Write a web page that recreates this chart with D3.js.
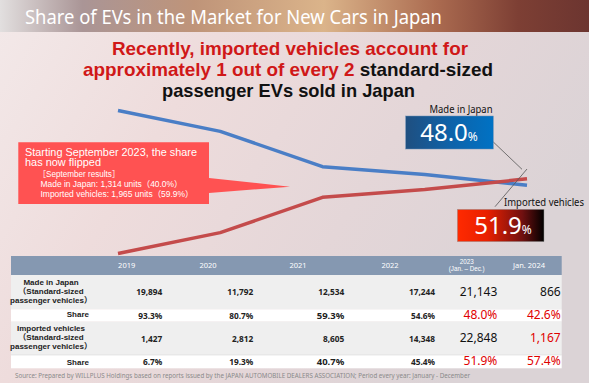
<!DOCTYPE html>
<html><head><meta charset="utf-8">
<script src="https://cdn.jsdelivr.net/npm/d3@7"></script>
<style>html,body{margin:0;padding:0;overflow:hidden;background:#fff}svg{display:block}</style>
</head><body>
<svg id="c" width="589" height="383"></svg>
<script>
// ---------- data ----------
const years = ["2019", "2020", "2021", "2022", "2023"];
const madeInJapanShare = [93.3, 80.7, 59.3, 54.6, 48.0];
const importedShare = [6.7, 19.3, 40.7, 45.4, 51.9];
const tableHeaders = ["2019", "2020", "2021", "2022", "2023|(Jan. – Dec.)", "Jan. 2024"];
const madeInJapanUnits = ["19,894", "11,792", "12,534", "17,244", "21,143", "866"];
const madeInJapanShareText = ["93.3%", "80.7%", "59.3%", "54.6%", "48.0%", "42.6%"];
const importedUnits = ["1,427", "2,812", "8,605", "14,348", "22,848", "1,167"];
const importedShareText = ["6.7%", "19.3%", "40.7%", "45.4%", "51.9%", "57.4%"];
const rowLabels = ["Made in Japan|（Standard-sized|passenger vehicles）", "Share", "Imported vehicles|（Standard-sized|passenger vehicles）", "Share"];
const titleText = "Share of EVs in the Market for New Cars in Japan";
const calloutLines = ["Starting September 2023, the share", "has now flipped", "［September results］", "Made in Japan: 1,314 units（40.0%）", "Imported vehicles: 1,965 units（59.9%）"];
const sourceText = "Source: Prepared by WILLPLUS Holdings based on reports issued by the JAPAN AUTOMOBILE DEALERS ASSOCIATION; Period every year: January - December";

const svg = d3.select("#c");
const defs = svg.append("defs");
const FONT = "'Noto Sans','Noto Sans CJK JP',sans-serif";
const TFONT = "'Liberation Sans','Noto Sans CJK JP',sans-serif";

function lg(id, stops, x2 = 1, y2 = 0) {
  const g = defs.append("linearGradient").attr("id", id)
    .attr("x1", 0).attr("y1", 0).attr("x2", x2).attr("y2", y2);
  stops.forEach(s => g.append("stop").attr("offset", s[0]).attr("stop-color", s[1]));
}
lg("bg", [[0, "#f3e9e9"], [0.35, "#eedcdc"], [0.7, "#e4d6d8"], [1, "#dbd3d6"]], 1, 0.4);
lg("title", [[0, "#e2dfdf"], [0.14, "#aa9596"], [0.33, "#bf9479"], [0.55, "#dbb48a"], [0.74, "#ab6b50"], [0.88, "#7d3f34"], [1, "#6c3530"]]);
lg("blueBox", [[0, "#1f4f80"], [0.5, "#0f62a8"], [1, "#0072c4"]]);
lg("redBox", [[0, "#ff2a00"], [0.35, "#e82000"], [0.75, "#701010"], [1, "#000000"]]);

// background
svg.append("rect").attr("width", 589).attr("height", 383).attr("fill", "url(#bg)");
// title bar
svg.append("rect").attr("width", 589).attr("height", 32).attr("fill", "url(#title)");
svg.append("text").attr("x", 25).attr("y", 24).attr("fill", "#fff")
  .attr("font-family", "'Noto Sans',sans-serif").attr("font-size", 19)
  .attr("textLength", 417).attr("lengthAdjust", "spacingAndGlyphs")
  .text(titleText);

// headline
const head = svg.append("g").attr("font-family", TFONT).attr("font-weight", "bold").attr("font-size", 18.5).attr("text-anchor", "middle");
head.append("text").attr("x", 290).attr("y", 54.5).attr("fill", "#d01818")
  .attr("textLength", 356).attr("lengthAdjust", "spacingAndGlyphs")
  .text("Recently, imported vehicles account for");
const l2 = head.append("text").attr("x", 288).attr("y", 75.5)
  .attr("textLength", 410).attr("lengthAdjust", "spacingAndGlyphs");
l2.append("tspan").attr("fill", "#d01818").text("approximately 1 out of every 2 ");
l2.append("tspan").attr("fill", "#111").text("standard-sized");
head.append("text").attr("x", 288.5).attr("y", 96.5).attr("fill", "#111")
  .attr("textLength", 253).attr("lengthAdjust", "spacingAndGlyphs")
  .text("passenger EVs sold in Japan");

// scales
const x = d3.scalePoint().domain(years).range([118, 527]);
const y = d3.scaleLinear().domain([0, 100]).range([264.5, 99.5]);
const line = d3.line().x((d, i) => x(years[i])).y(d => y(d));

svg.append("path").datum(madeInJapanShare).attr("d", line).attr("fill", "none")
  .attr("stroke", "#4a7ec6").attr("stroke-width", 3.5).attr("stroke-linejoin", "round");
svg.append("path").datum(importedShare).attr("d", line).attr("fill", "none")
  .attr("stroke", "#c44b4b").attr("stroke-width", 3.5).attr("stroke-linejoin", "round");

// callout
svg.append("path")
  .attr("d", "M18.3,142.3 H209 V178 L290,186.7 L209,193 V204 H18.3 Z")
  .attr("fill", "#ff5252");
const co = svg.append("g").attr("font-family", TFONT).attr("fill", "#fff");
co.append("text").attr("x", 25).attr("y", 155.5).attr("font-size", 10.5)
  .attr("textLength", 172).attr("lengthAdjust", "spacingAndGlyphs").text(calloutLines[0]);
co.append("text").attr("x", 25).attr("y", 166).attr("font-size", 10.5)
  .attr("textLength", 76).attr("lengthAdjust", "spacingAndGlyphs").text(calloutLines[1]);
co.append("text").attr("x", 38).attr("y", 177).attr("font-size", 8.3)
  .attr("textLength", 82).attr("lengthAdjust", "spacingAndGlyphs").text(calloutLines[2]);
co.append("text").attr("x", 40.5).attr("y", 187.3).attr("font-size", 8.5)
  .attr("textLength", 142).attr("lengthAdjust", "spacingAndGlyphs").text(calloutLines[3]);
co.append("text").attr("x", 40.5).attr("y", 197).attr("font-size", 8.5)
  .attr("textLength", 153).attr("lengthAdjust", "spacingAndGlyphs").text(calloutLines[4]);

// leader lines
const endX = x(years[years.length - 1]);
svg.append("line").attr("x1", 493).attr("y1", 141.7).attr("x2", endX - 5).attr("y2", 169.3)
  .attr("stroke", "#555").attr("stroke-width", 0.8);
svg.append("line").attr("x1", endX).attr("y1", 169).attr("x2", 495).attr("y2", 206.7)
  .attr("stroke", "#555").attr("stroke-width", 0.8);

// value boxes
const lastMJ = madeInJapanShare[madeInJapanShare.length - 1];
const lastIM = importedShare[importedShare.length - 1];
svg.append("text").attr("x", 461).attr("y", 113.3).attr("text-anchor", "middle")
  .attr("font-family", FONT).attr("font-size", 10).attr("fill", "#111")
  .attr("textLength", 63).attr("lengthAdjust", "spacingAndGlyphs").text("Made in Japan");
svg.append("rect").attr("x", 405.7).attr("y", 116).attr("width", 87.6).attr("height", 33)
  .attr("fill", "url(#blueBox)").attr("stroke", "#6a8fb5").attr("stroke-width", 0.5);
const t1 = svg.append("text").attr("x", 449).attr("y", 141).attr("text-anchor", "middle")
  .attr("font-family", FONT).attr("fill", "#fff");
t1.append("tspan").attr("font-size", 24).text(lastMJ.toFixed(1));
t1.append("tspan").attr("font-size", 12).text("%");

svg.append("text").attr("x", 544).attr("y", 206).attr("text-anchor", "middle")
  .attr("font-family", FONT).attr("font-size", 10).attr("fill", "#111")
  .attr("textLength", 80).attr("lengthAdjust", "spacingAndGlyphs").text("Imported vehicles");
svg.append("rect").attr("x", 457.3).attr("y", 209.3).attr("width", 86.7).attr("height", 32.4)
  .attr("fill", "url(#redBox)").attr("stroke", "#999").attr("stroke-width", 0.5);
const t2 = svg.append("text").attr("x", 503).attr("y", 233.5).attr("text-anchor", "middle")
  .attr("font-family", FONT).attr("fill", "#fff");
t2.append("tspan").attr("font-size", 24).text(lastIM.toFixed(1));
t2.append("tspan").attr("font-size", 12).text("%");

// table
const tL = 11, tR = 561.7;
const rowsY = [256, 275, 309.3, 321.7, 355, 368.3];
const headCenters = [126.7, 208, 298, 390, 466.7, 529];
const valRights = [162.3, 253.3, 344.3, 435, 497.3, 560.7];
const tb = svg.append("g").attr("font-family", FONT);
tb.append("rect").attr("x", tL).attr("y", rowsY[0]).attr("width", tR - tL).attr("height", rowsY[1] - rowsY[0]).attr("fill", "#8598b1");
const rowFills = ["#efefef", "#ffffff", "#efefef", "#ffffff"];
rowFills.forEach((f, i) => tb.append("rect").attr("x", tL).attr("y", rowsY[i + 1]).attr("width", tR - tL)
  .attr("height", rowsY[i + 2] - rowsY[i + 1]).attr("fill", f));
tb.append("line").attr("x1", tL).attr("x2", tR).attr("y1", 355).attr("y2", 355).attr("stroke", "#d8d8d8").attr("stroke-width", 0.6);

tableHeaders.forEach((h, i) => {
  const parts = h.split("|");
  if (parts.length === 1) {
    tb.append("text").attr("x", headCenters[i]).attr("y", 267.5).attr("text-anchor", "middle")
      .attr("font-size", 7.5).attr("fill", "#fff").text(h);
  } else {
    tb.append("text").attr("x", headCenters[i]).attr("y", 264).attr("text-anchor", "middle")
      .attr("font-family", TFONT).attr("font-size", 6.3).attr("fill", "#fff").text(parts[0]);
    tb.append("text").attr("x", headCenters[i]).attr("y", 271).attr("text-anchor", "middle")
      .attr("font-family", TFONT).attr("font-size", 6.3).attr("fill", "#fff").text(parts[1]);
  }
});

// row labels
const labelBase = [[284.5, 293.5, 302.5], [317], [331, 340, 349], [364.5]];
rowLabels.forEach((lab, r) => {
  const parts = lab.split("|");
  parts.forEach((p, k) => {
    const t = tb.append("text").attr("y", labelBase[r][k]).attr("font-size", 8)
      .attr("font-family", TFONT).attr("font-weight", "bold").attr("fill", "#222").text(p);
    if (parts.length === 1) t.attr("x", 89).attr("text-anchor", "end");
    else t.attr("x", 51).attr("text-anchor", "middle");
  });
});

const rows = [madeInJapanUnits, madeInJapanShareText, importedUnits, importedShareText];
const valBase = [295, 318.5, 341.5, 364.5];
rows.forEach((vals, r) => {
  vals.forEach((v, c) => {
    let size = 8.3, weight = "bold", color = "#222";
    if (c >= 4) { size = 12; weight = "normal"; color = "#111"; }
    if (c >= 4 && (r === 1 || r === 3)) color = "#e00000";
    if (c === 5 && r === 2) color = "#e00000";
    if (c === 2 && (r === 1 || r === 3)) size = 9.5;
    tb.append("text").attr("x", valRights[c]).attr("y", valBase[r] + (c >= 4 ? 0.5 : 0))
      .attr("text-anchor", "end").attr("font-size", size).attr("font-weight", weight)
      .attr("fill", color).text(v);
  });
});

// source
svg.append("text").attr("x", 15).attr("y", 378).attr("font-family", FONT)
  .attr("font-size", 7).attr("fill", "#8a8a8a")
  .attr("textLength", 455).attr("lengthAdjust", "spacingAndGlyphs").text(sourceText);
</script>
</body></html>
